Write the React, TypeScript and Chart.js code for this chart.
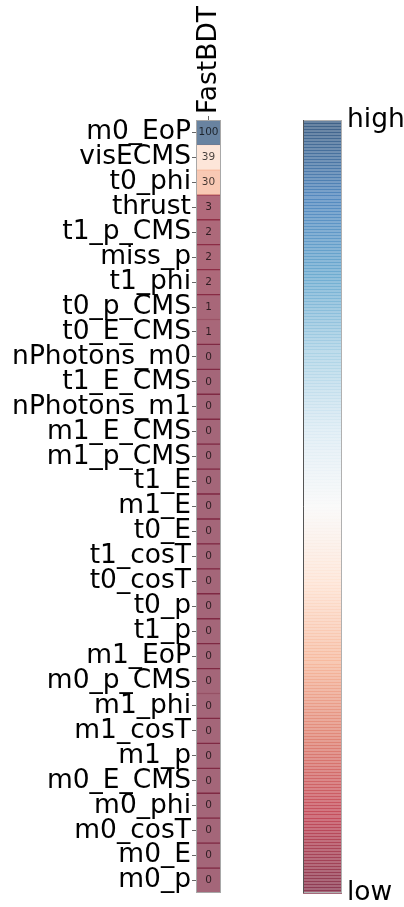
import React, { useEffect, useRef } from "react";
import { Chart, registerables } from "chart.js";

Chart.register(...registerables);

// Feature names, top to bottom
const features = [
  "m0_EoP", "visECMS", "t0_phi", "thrust", "t1_p_CMS", "miss_p", "t1_phi",
  "t0_p_CMS", "t0_E_CMS", "nPhotons_m0", "t1_E_CMS", "nPhotons_m1", "m1_E_CMS",
  "m1_p_CMS", "t1_E", "m1_E", "t0_E", "t1_cosT", "t0_cosT", "t0_p", "t1_p",
  "m1_EoP", "m0_p_CMS", "m1_phi", "m1_cosT", "m1_p", "m0_E_CMS", "m0_phi",
  "m0_cosT", "m0_E", "m0_p",
];

// Relative importance per feature (FastBDT column)
const fastBDT = [
  100, 39, 30, 3, 2, 2, 2, 1, 1, 0, 0, 0, 0, 0, 0, 0, 0, 0, 0, 0, 0, 0, 0, 0, 0,
  0, 0, 0, 0, 0, 0,
];

const models = ["FastBDT"];

const colorbarTicks = [0, 100];
const colorbarLabels = ["low", "high"];

const FONT = "'DejaVu Sans', 'Liberation Sans', sans-serif";
const LABEL_SIZE = 26.5;
const ALPHA = 0.6;
const EDGE_ALPHA = 1 - (1 - ALPHA) * (1 - ALPHA);
const COLORMAP_LEVELS = 256;

// RdBu colormap stops
const RDBU = [
  [103, 0, 31], [178, 24, 43], [214, 96, 77], [244, 165, 130], [253, 219, 199],
  [247, 247, 247], [209, 229, 240], [146, 197, 222], [67, 147, 195],
  [33, 102, 172], [5, 48, 97],
];

function rdbu(t: number): number[] {
  const c = Math.min(1, Math.max(0, t)) * (RDBU.length - 1);
  const i = Math.min(RDBU.length - 2, Math.floor(c));
  const f = c - i;
  return RDBU[i].map((v, k) => v + (RDBU[i + 1][k] - v) * f);
}

function overWhite(rgb: number[], a: number): string {
  const [r, g, b] = rgb.map((v) => Math.round(a * v + (1 - a) * 255));
  return `rgb(${r},${g},${b})`;
}

const cellLabels = {
  id: "cellLabels",
  afterDatasetsDraw(chart: any) {
    const { ctx, chartArea } = chart;
    const meta = chart.getDatasetMeta(0);
    ctx.save();
    ctx.font = `10.5px ${FONT}`;
    ctx.fillStyle = "rgba(0,0,0,0.72)";
    ctx.textAlign = "center";
    ctx.textBaseline = "middle";
    meta.data.forEach((bar: any, i: number) => {
      const v = chart.data.datasets[0].values[i];
      ctx.fillText(String(v), (chartArea.left + chartArea.right) / 2, bar.y);
    });
    ctx.strokeStyle = "#a8a8a8";
    ctx.lineWidth = 1;
    ctx.strokeRect(
      chartArea.left + 0.5,
      chartArea.top + 0.5,
      chartArea.right - chartArea.left - 1,
      chartArea.bottom - chartArea.top - 1
    );
    ctx.restore();
  },
};

// Level edges of the colour map and the frame around the bar
const colorbarFrame = {
  id: "colorbarFrame",
  afterDatasetsDraw(chart: any) {
    const { ctx, chartArea } = chart;
    const y = chart.scales.y;
    const { left, right, top, bottom } = chartArea;
    ctx.save();
    ctx.lineWidth = 1;
    ctx.globalAlpha = 0.7;
    for (let k = 0; k <= COLORMAP_LEVELS; k++) {
      const t = k / COLORMAP_LEVELS;
      const v = y.min + (y.max - y.min) * t;
      const py = Math.round(y.getPixelForValue(v)) + 0.5;
      ctx.strokeStyle = overWhite(rdbu(t), EDGE_ALPHA);
      ctx.beginPath();
      ctx.moveTo(left, py);
      ctx.lineTo(right, py);
      ctx.stroke();
    }
    ctx.globalAlpha = 1;
    ctx.strokeStyle = "#b0b0b0";
    ctx.strokeRect(left + 0.5, top + 0.5, right - left - 1, bottom - top - 1);
    ctx.strokeStyle = "#555";
    ctx.beginPath();
    ctx.moveTo(left + 0.5, top);
    ctx.lineTo(left + 0.5, bottom);
    ctx.stroke();
    ctx.restore();
  },
};

function zeroPadding(scale: any) {
  scale.paddingLeft = 0;
  scale.paddingRight = 0;
  scale.paddingTop = 0;
  scale.paddingBottom = 0;
}

function Heatmap() {
  const ref = useRef<HTMLCanvasElement>(null);
  useEffect(() => {
    const chart = new Chart(ref.current!, {
      type: "bar",
      data: {
        labels: features,
        datasets: [
          {
            data: fastBDT.map(() => [-0.5, 0.5]),
            values: fastBDT,
            backgroundColor: fastBDT.map((v) => overWhite(rdbu(v / 100), ALPHA)),
            borderColor: fastBDT.map((v) => overWhite(rdbu(v / 100), EDGE_ALPHA)),
            borderWidth: { top: 1, bottom: 1, left: 0, right: 0 },
            borderSkipped: false,
            barPercentage: 1,
            categoryPercentage: 1,
          } as any,
        ],
      },
      options: {
        indexAxis: "y",
        responsive: false,
        animation: false,
        devicePixelRatio: 1,
        layout: { padding: { left: 0, top: 0, right: 19, bottom: 14 } },
        plugins: { legend: { display: false }, tooltip: { enabled: false } },
        scales: {
          x: {
            type: "linear",
            position: "top",
            min: -0.5,
            max: 0.5,
            afterBuildTicks: (s: any) => {
              s.ticks = models.map((_, i) => ({ value: i }));
            },
            afterFit: (s: any) => {
              s.height = 120;
              zeroPadding(s);
            },
            ticks: {
              callback: (v: any) => models[v] ?? "",
              minRotation: 90,
              maxRotation: 90,
              padding: 2,
              labelOffset: 32,
              color: "#000",
              font: { family: FONT, size: LABEL_SIZE },
            },
            grid: { drawOnChartArea: false, tickLength: 4, color: "#666" },
            border: { display: false },
          },
          y: {
            type: "category",
            afterFit: (s: any) => {
              s.width = 196;
              zeroPadding(s);
            },
            ticks: {
              autoSkip: false,
              padding: 1,
              color: "#000",
              font: { family: FONT, size: LABEL_SIZE },
            },
            grid: {
              offset: false,
              drawOnChartArea: false,
              tickLength: 4,
              color: "#666",
            },
            border: { display: false },
          },
        },
      } as any,
      plugins: [cellLabels],
    });
    return () => chart.destroy();
  }, []);
  return <canvas ref={ref} width={240} height={907} />;
}

function Colorbar() {
  const ref = useRef<HTMLCanvasElement>(null);
  useEffect(() => {
    const chart = new Chart(ref.current!, {
      type: "bar",
      data: {
        labels: [""],
        datasets: [
          {
            data: [[colorbarTicks[0], colorbarTicks[1]]],
            backgroundColor: (c: any) => {
              const area = c.chart.chartArea;
              if (!area) return "#fff";
              const g = c.chart.ctx.createLinearGradient(0, area.bottom, 0, area.top);
              RDBU.forEach((_, i) => {
                const t = i / (RDBU.length - 1);
                g.addColorStop(t, overWhite(rdbu(t), ALPHA));
              });
              return g;
            },
            borderWidth: 0,
            barPercentage: 1,
            categoryPercentage: 1,
          } as any,
        ],
      },
      options: {
        responsive: false,
        animation: false,
        devicePixelRatio: 1,
        layout: { padding: { left: 63, top: 120, right: 0, bottom: 14 } },
        plugins: { legend: { display: false }, tooltip: { enabled: false } },
        scales: {
          x: { display: false },
          y: {
            type: "linear",
            position: "right",
            min: colorbarTicks[0],
            max: colorbarTicks[1],
            afterBuildTicks: (s: any) => {
              s.ticks = colorbarTicks.map((v) => ({ value: v }));
            },
            afterFit: (s: any) => {
              s.width = 62;
              zeroPadding(s);
            },
            ticks: {
              callback: (v: any) => colorbarLabels[colorbarTicks.indexOf(v)],
              padding: 5,
              color: "#000",
              font: { family: FONT, size: LABEL_SIZE },
            },
            grid: { display: false, tickLength: 0 },
            border: { display: false },
          },
        },
      } as any,
      plugins: [colorbarFrame],
    });
    return () => chart.destroy();
  }, []);
  return <canvas ref={ref} width={164} height={907} />;
}

export default function App() {
  return (
    <div
      style={{
        position: "absolute",
        left: 0,
        top: 0,
        width: 404,
        height: 907,
        display: "flex",
        background: "#fff",
      }}
    >
      <Heatmap />
      <Colorbar />
    </div>
  );
}
